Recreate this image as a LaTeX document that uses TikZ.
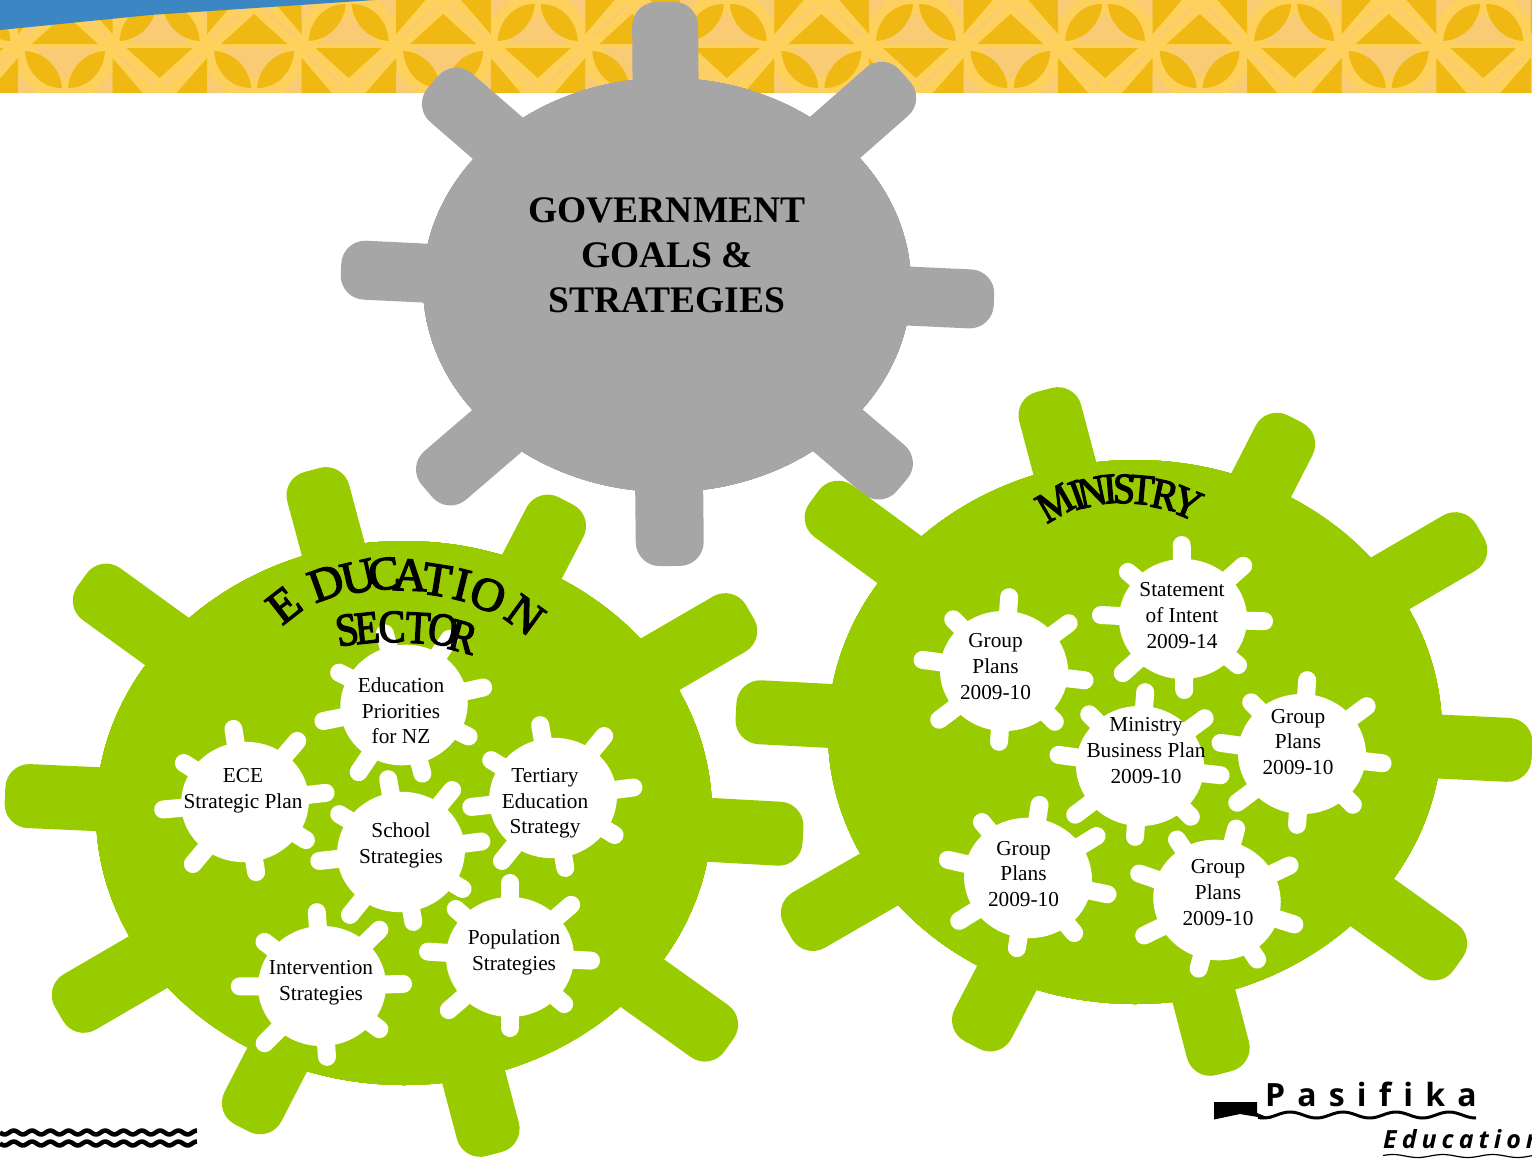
\documentclass[tikz,border=0pt]{standalone}
\usepackage{fontspec}
\usetikzlibrary{calc}
\setmainfont{Liberation Serif}
\newfontfamily\wafont[FakeBold=3]{Liberation Serif}
\newfontfamily\logofont[LetterSpace=38,Ligatures=NoCommon]{Open Sans}
\newfontfamily\logoitfont[LetterSpace=20,Ligatures=NoCommon]{Open Sans}
\definecolor{gearGray}{HTML}{A6A6A6}
\definecolor{gearGreen}{HTML}{99CC00}
\definecolor{bandLight}{HTML}{FDD15C}
\definecolor{bandPeach}{HTML}{F8CB74}
\definecolor{bandOrange}{HTML}{F0B812}
\definecolor{bandBlue}{HTML}{3C86C4}
\tikzset{
  gearlabel/.style={font=\fontsize{21.3}{25.6}\selectfont,align=center,inner sep=0pt,text=black},
  titlelabel/.style={font=\fontsize{37.5}{45}\selectfont\bfseries,align=center,inner sep=0pt,text=black},
  smalltooth/.style={draw=white,line width=18pt,line cap=round,shorten >=9pt},
  eduletter/.style={font=\fontsize{47}{47}\selectfont\wafont,inner sep=0pt,text=black},
  secletter/.style={font=\fontsize{46}{46}\selectfont\wafont,inner sep=0pt,text=black,xscale=.88},
  minletter/.style={font=\fontsize{43}{43}\selectfont\wafont,inner sep=0pt,text=black,xscale=.92},
}
\newcommand{\tooth}[5]{%
  \coordinate (tc) at (#2); \coordinate (te) at (#3);
  \fill[#1,rounded corners=#5] ($(tc)!#4!90:(te)$) -- ($(te)!#4!-90:(tc)$) -- ($(te)!#4!90:(tc)$) -- ($(tc)!#4!-90:(te)$) -- cycle;}
\newcommand{\smallgear}[3]{%
  \begin{scope}[shift={(#1,#2)},rotate=#3]
    \fill[white] (0,0) ellipse [x radius=64pt,y radius=60pt];
    \foreach \ex/\ey in {0/-83,68/-58,90/4,61/53,0/80,-68/59,-91/-6,-61/-54}
      \draw[smalltooth] (0,0) -- (\ex,\ey);
  \end{scope}}
\newcommand{\bandtile}[4]{% x, y, flip, type
  \begin{scope}[shift={(#1,#2)},yscale=#3]
    \ifnum#4=0
      \fill[bandPeach] (0,47) -- (0,26) -- (20,47) -- cycle;
      \fill[bandPeach] (94.6,47) -- (94.6,26) -- (75,47) -- cycle;
      \fill[bandPeach] (16,2) -- (78,2) -- (47,33) -- cycle;
      \fill[bandOrange] (7,5) .. controls (28,6) and (43,24) .. (44,42) .. controls (22,42) and (8,24) .. (7,5) -- cycle;
      \fill[bandOrange] (87,5) .. controls (66,6) and (51,24) .. (50,42) .. controls (72,42) and (86,24) .. (87,5) -- cycle;
    \else
      \fill[bandOrange] (14,2) -- (80,2) -- (47,32) -- cycle;
      \fill[bandOrange] (0,12) -- (0,47) -- (30,47) -- cycle;
      \fill[bandOrange] (94.6,12) -- (94.6,47) -- (64,47) -- cycle;
      \draw[bandPeach,line width=3pt] (6,10) -- (42,40);
      \draw[bandPeach,line width=3pt] (88,10) -- (52,40);
    \fi
  \end{scope}}
\begin{document}
\begin{tikzpicture}[x=1pt,y=-1pt]
\useasboundingbox (0,0) rectangle (1532,1159);
\clip (0,0) rectangle (1532,1159);
% top band
\fill[bandLight] (0,0) rectangle (1532,93);
\foreach \i in {-1,0,...,16}{
  \pgfmathsetmacro{\tx}{18+94.55*\i}
  \pgfmathtruncatemacro{\ta}{mod(\i+2,2)}
  \pgfmathtruncatemacro{\tb}{1-\ta}
  \bandtile{\tx}{46}{1}{\ta}
  \bandtile{\tx}{46}{-1}{\tb}
}
\fill[bandBlue] (0,0) -- (375,0) -- (150,15) -- (0,30) -- cycle;
% government gear
\foreach \ex/\ey/\hw in {665/2/33,905/76/32,994/300/29.5,902/485/32,670/566/34,427/491/32,341/269/29.5,433/82/32}
  \tooth{gearGray}{667,285}{\ex,\ey}{\hw pt}{24pt}
\fill[gearGray] (667,285) ellipse [x radius=244pt,y radius=207pt];
\node[titlelabel] (govt) at (667,255) {GOVERNMENT\\GOALS \&\\STRATEGIES};
% education sector gear
\foreach \ex/\ey in {312/470,566/501,750/612,803/835,729/1045,494/1154,242/1128,59/1014,5/795,82/580}
  \tooth{gearGreen}{404,813}{\ex,\ey}{32pt}{24pt}
\fill[gearGreen] (404,813) ellipse [x radius=308pt,y radius=272pt];
% ministry gear
\foreach \ex/\ey in {1044/390,1295/419,1480/531,1532/751,1458/964,1224/1073,972/1045,788/932,736/711,814/497}
  \tooth{gearGreen}{1135,732}{\ex,\ey}{32pt}{24pt}
\fill[gearGreen] (1135,732) ellipse [x radius=307pt,y radius=272pt];
% small gears, education
\smallgear{404}{705}{15}
\smallgear{245}{802}{9}
\smallgear{553}{798}{10}
\smallgear{401}{852}{10}
\smallgear{510}{957}{0}
\smallgear{322}{986}{4}
% small gears, ministry
\smallgear{1183}{619}{1}
\smallgear{1004}{671}{-4}
\smallgear{1140}{766}{-4}
\smallgear{1302}{754}{-4}
\smallgear{1028}{878}{-9}
\smallgear{1217}{900}{-15}
% labels
\node[gearlabel] (edupri) at (401,711) {Education\\Priorities\\for NZ};
\node[gearlabel] (ece) at (243,790.5) {ECE\\Strategic Plan};
\node[gearlabel] (tert) at (545,803.5) {Tertiary\\Education\\Strategy};
\node[gearlabel] (school) at (401,845.5) {School\\Strategies};
\node[gearlabel] (popn) at (514,952.5) {Population\\Strategies};
\node[gearlabel] (interv) at (321,983) {Intervention\\Strategies};
\node[gearlabel] (soi) at (1182,615.5) {Statement\\of Intent\\2009-14};
\node[gearlabel] (gpa) at (995.5,666.5) {Group\\Plans\\2009-10};
\node[gearlabel] (mbp) at (1146,750.5) {Ministry\\Business Plan\\2009-10};
\node[gearlabel] (gpb) at (1298,742) {Group\\Plans\\2009-10};
\node[gearlabel] (gpc) at (1023.5,874) {Group\\Plans\\2009-10};
\node[gearlabel] (gpd) at (1218,892.5) {Group\\Plans\\2009-10};
% word art
\foreach \n/\ch/\x/\y/\a in {a/E/284/605/38,b/D/326/583/20,c/U/358/577/13,d/C/384/574/8,e/A/410/575/-2,f/T/437/580/-9,g/I/462/585/-14,h/O/488/595/-20,i/N/525/615/-36}
  \node[rotate=\a,eduletter] (edu\n) at (\x,\y) {\ch};
\foreach \n/\ch/\x/\y/\a in {a/S/347/630/-10,b/E/367/628/-6,c/C/392/627/-2,d/T/418/628/3,e/O/443/630/8,f/R/463/637/15}
  \node[rotate=-\a,secletter] (sec\n) at (\x,\y) {\ch};
\foreach \n/\ch/\x/\y/\a in {a/M/1055/503/30,b/I/1077/495/20,c/N/1092/492/12,d/I/1110/489/5,e/S/1124/489/0,f/T/1142/490/-5,g/R/1165/495/-12,h/Y/1187/503/-22}
  \node[rotate=\a,minletter] (min\n) at (\x,\y) {\ch};
% bottom left waves
\draw[line width=4.6pt] plot[domain=0:197,samples=240] (\x,{1132.5+1.9*sin(\x*19.67)});
\draw[line width=4.6pt] plot[domain=0:197,samples=240] (\x,{1143.5+1.9*sin(\x*19.67)});
% logo
\fill (1214,1102) -- (1257,1102) -- (1257,1113) -- (1272,1119) -- (1258,1117) -- (1240,1114) -- (1214,1119.5) -- cycle;
\draw[line width=3pt] plot[domain=1258:1476,samples=90] (\x,{1115-3*cos((\x-1290)*6.79)});
\node[font=\fontsize{32}{32}\selectfont\logofont\bfseries,inner sep=0pt,anchor=base west] (pasifika) at (1265,1106) {Pasifika};
\node[font=\fontsize{25}{25}\selectfont\logoitfont\bfseries\itshape,inner sep=0pt,anchor=base west] (education) at (1383,1148) {Education};
\draw[line width=1.2pt] plot[domain=1383:1532,samples=60] (\x,{1156+1.5*sin((\x-1383)*7.2+200)});
\end{tikzpicture}
\end{document}
